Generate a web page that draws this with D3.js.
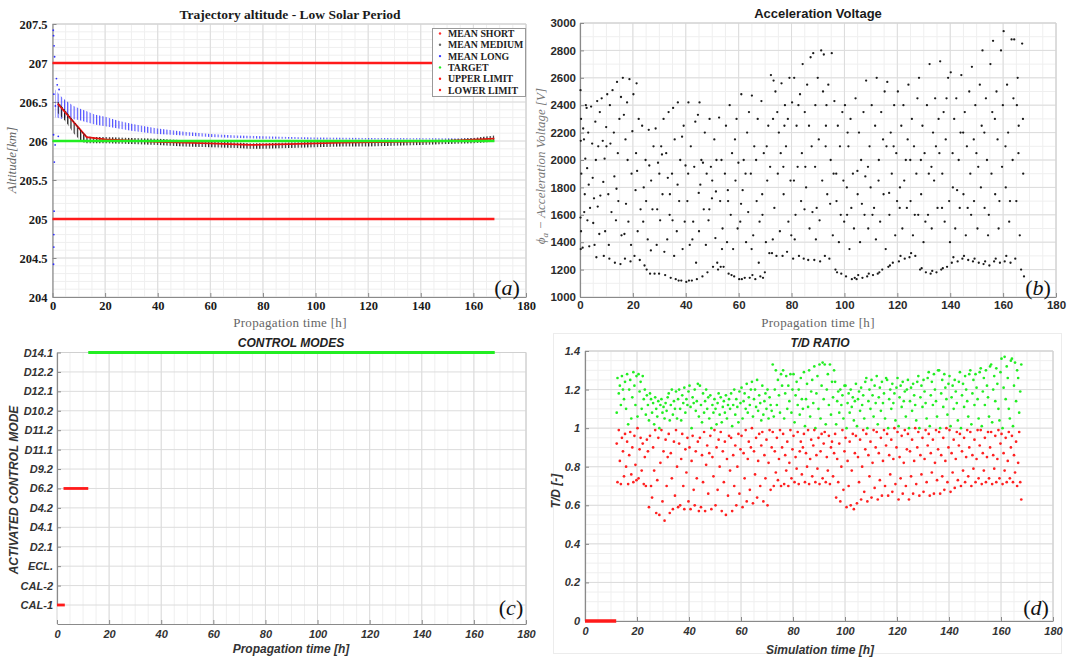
<!DOCTYPE html>
<html><head><meta charset="utf-8">
<script src="https://cdn.jsdelivr.net/npm/d3@7"></script>
<style>body{margin:0;background:#fff}svg{display:block}</style>
</head><body>
<svg id="c" width="1069" height="662"></svg>
<script>
// ---------------- DATA ----------------
// (a) Trajectory altitude
const aTitle = "Trajectory altitude - Low Solar Period";
const aLimitUpper = 207, aLimitLower = 205, aTarget = 206, aEnd = 168;
const legendNames = ["MEAN SHORT","MEAN MEDIUM","MEAN LONG","TARGET","UPPER LIMIT","LOWER LIMIT"];
const longT  = [1,2,3,5,8,10,13,16,20,25,30,35,40,50,60,70,80,90,100,120,140,160,168];
const longHi = [206.66,206.62,206.58,206.52,206.45,206.42,206.38,206.34,206.31,206.26,206.22,206.19,206.16,206.12,206.09,206.07,206.06,206.05,206.045,206.04,206.035,206.035,206.04];
const longLo = [206.30,206.30,206.28,206.30,206.28,206.27,206.24,206.21,206.19,206.16,206.13,206.11,206.09,206.07,206.05,206.04,206.03,206.03,206.02,206.02,206.02,206.02,206.02];
const longOutliers = [[0.3,207.42],[0.4,207.35],[0.6,207.22],[0.8,207.08],[1.5,206.8],[1.8,206.72],[2.5,206.66],[0.5,206.6],[1.1,206.45],[0.4,206.08],[1.0,205.95],[0.7,205.73],[0.6,205.1],[0.5,204.8],[0.5,204.64],[0.4,204.42],[2.2,206.06]];
const medT  = [2,5,8,11,13,15,20,30,40,50,60,70,75,80,90,100,110,120,130,140,150,160,168];
const medHi = [206.5,206.38,206.25,206.12,206.06,206.05,206.05,206.04,206.03,206.01,206.0,205.98,205.97,205.97,205.98,205.99,206.0,206.0,206.0,206.01,206.02,206.04,206.07];
const medLo = [206.36,206.25,206.1,205.99,205.97,205.97,205.97,205.96,205.95,205.93,205.92,205.91,205.9,205.9,205.91,205.92,205.93,205.93,205.94,205.95,205.96,205.97,205.99];
const shortT = [2,13,20,40,60,75,90,110,130,150,168];
const shortV = [206.48,206.05,206.02,205.99,205.97,205.95,205.96,205.98,205.99,206.0,206.03];

// (b) Acceleration voltage (t [h], V)
const bTitle = "Acceleration Voltage";
const voltage = [
0.2,2510,0.4,2300,0.3,2140,0.5,1900,0.2,1580,0.4,1480,0.3,1350,1.2,2230,1.5,2150,1.8,1750,2.2,2400,2.5,2380,2.8,1560,3.1,2200,3.5,1370,3.8,1650,1.0,1360,2.0,2010,3.3,1820,
4.2,2390,4.6,2120,5.0,1540,5.3,1720,5.8,2280,6.2,1290,6.5,2430,6.9,2100,7.3,1460,7.7,1740,4.8,1870,6.0,2000,7.5,2350,
8.2,2450,8.6,2140,9.0,1300,9.5,1480,9.9,2240,10.3,2480,10.7,1750,11.1,1280,11.5,2120,11.9,1620,8.8,1840,10.0,2100,11.3,2400,
12.3,2510,12.8,2200,13.2,1250,13.6,1560,14.0,2570,14.5,1700,14.9,2300,15.3,1240,15.7,1450,13.0,1880,14.3,2050,15.5,2460,
16.2,2600,16.6,2330,17.0,1280,17.4,1680,17.8,2420,18.3,1550,18.7,2590,19.1,1260,19.5,1900,19.8,2210,16.8,1460,18.0,2000,
20.2,2480,20.6,1300,21.0,1780,21.4,2560,21.8,1480,22.2,2300,22.6,1270,21.2,2050,22.9,1640,
23.5,2250,23.9,1550,24.4,1230,24.8,2000,25.2,1200,25.6,1420,26.0,2220,26.5,1170,26.9,1850,27.4,1640,27.8,2100,25.0,1700,26.2,1960,
28.2,1170,28.6,2230,29.0,1380,29.5,1980,29.9,1170,30.3,1560,30.7,2100,31.2,1750,31.6,2300,30.0,1900,31.9,1330,
32.2,1160,32.6,2050,33.0,1420,33.5,2350,33.9,1600,34.3,1140,34.8,1900,35.2,2380,35.6,1300,34.0,1750,35.8,2150,
36.2,1130,36.6,1480,37.0,2420,37.5,1700,37.9,2000,38.3,1120,38.8,1350,39.2,2250,39.6,1550,37.3,1120,39.9,1960,
40.2,1110,40.6,1700,41.0,2420,41.5,1380,41.9,2100,42.3,1120,42.8,1550,43.2,1950,43.6,2280,41.2,1120,43.9,1250,
44.2,1130,44.6,2330,45.0,1480,45.5,1820,45.9,2000,46.3,1150,46.8,1640,47.2,2200,47.6,1380,45.2,2420,47.9,1900,
48.2,1180,48.6,1560,49.0,2300,49.5,1950,49.9,1720,50.3,1220,50.8,2150,51.2,1430,51.6,2000,50.0,1850,51.9,1250,
52.2,1200,52.6,2310,53.0,1700,53.5,2000,53.9,1500,54.3,1220,54.8,1900,55.2,2250,55.6,1400,53.2,1220,55.9,1780,
56.2,1170,56.6,2400,57.0,1600,57.5,2050,57.9,1350,58.3,1150,58.8,1850,59.2,2300,59.6,1500,57.3,1160,59.9,1980,
60.2,1130,60.6,1550,61.0,2480,61.5,1780,61.9,2000,62.3,1140,62.8,1400,63.2,2200,63.6,1620,61.2,1130,63.9,2350,
64.2,1140,64.6,1900,65.0,2470,65.5,1450,65.9,2100,66.3,1130,66.8,1700,67.2,2300,67.6,1250,65.2,1160,67.9,1550,
68.2,1150,68.6,2430,69.0,1600,69.5,2050,69.9,1180,70.3,1400,70.8,1850,71.2,2250,71.6,1320,69.2,1140,71.9,1950,
72.2,2620,72.6,1320,73.0,2300,73.5,1650,73.9,2500,74.3,1300,74.8,1900,75.2,2200,75.6,1480,73.2,2580,75.9,2050,
76.2,2560,76.6,1300,77.0,1750,77.5,2400,77.9,2100,78.3,1330,78.8,1550,79.2,2600,79.6,1850,77.3,2250,79.9,1450,
80.2,2420,80.6,1280,81.0,2600,81.5,1600,81.9,2250,82.3,1950,82.8,1300,83.2,2480,83.6,1700,81.2,1420,83.9,2050,
84.2,2700,84.6,1280,85.0,2350,85.5,1800,85.9,2550,86.3,1270,86.8,1500,87.2,2750,87.6,2100,85.2,1950,87.9,1620,
88.2,2780,88.6,1270,89.0,2400,89.5,1650,89.9,2600,90.3,2150,90.8,1260,91.2,2800,91.6,1850,89.2,1420,91.9,2500,
92.2,2770,92.6,1300,93.0,2250,93.5,1750,93.9,2550,94.3,1280,94.8,2000,95.2,2780,95.6,1450,93.2,2400,95.9,1900,
96.2,2430,96.6,1200,97.0,1700,97.5,2250,97.9,1400,98.3,2100,98.8,1170,99.2,2350,99.6,1850,97.2,1180,99.9,1550,
100.2,2400,100.6,1150,101.0,1600,101.5,2100,101.9,1350,102.3,2300,102.8,1130,103.2,1900,103.6,1500,101.2,2200,103.9,1140,
104.2,2450,104.6,1130,105.0,1750,105.5,2200,105.9,1400,106.3,2000,106.8,1140,107.2,2350,107.6,1600,105.2,1160,107.9,1880,
108.2,2580,108.6,1150,109.0,1500,109.5,2100,109.9,1800,110.3,2400,110.8,1160,111.2,1650,111.6,2250,109.2,1170,111.9,1420,
112.2,2600,112.6,1170,113.0,2000,113.5,1550,113.9,2350,114.3,1200,114.8,1750,115.2,2500,115.6,1350,113.2,1180,115.9,2100,
116.2,2570,116.6,1220,117.0,1600,117.5,2200,117.9,1900,118.3,1250,118.8,2400,119.2,1450,119.6,2050,117.2,1230,119.9,1700,
120.2,2500,120.6,1260,121.0,1800,121.5,2250,121.9,1500,122.3,2400,122.8,1280,123.2,2000,123.6,1650,121.2,1300,123.9,2150,
124.2,2550,124.6,1290,125.0,1700,125.5,2300,125.9,1450,126.3,2100,126.8,1300,127.2,1900,127.6,2450,125.2,1320,127.9,1600,
128.2,2600,128.6,1200,129.0,1750,129.5,2250,129.9,1400,130.3,2050,130.8,1180,131.2,2400,131.6,1600,129.2,1210,131.9,1900,
132.2,2700,132.6,1170,133.0,1500,133.5,2200,133.9,1850,134.3,2450,134.8,1180,135.2,1650,135.6,2300,133.2,1190,135.9,2050,
136.2,2720,136.6,1200,137.0,1900,137.5,2350,137.9,1550,138.3,2150,138.8,1220,139.2,2600,139.6,1700,137.2,1210,139.9,1400,
140.2,2640,140.6,1250,141.0,1800,141.5,2300,141.9,1500,142.3,2450,142.8,1260,143.2,2000,143.6,1650,141.2,1290,143.9,2200,
144.2,2620,144.6,1280,145.0,1750,145.5,2350,145.9,1450,146.3,2100,146.8,1270,147.2,2500,147.6,1900,145.2,1300,147.9,1600,
148.2,2680,148.6,1260,149.0,1700,149.5,2400,149.9,2050,150.3,1500,150.8,1250,151.2,2550,151.6,1800,149.2,1280,151.9,2250,
152.2,2800,152.6,1240,153.0,1650,153.5,2450,153.9,2000,154.3,1450,154.8,1230,155.2,2700,155.6,1900,153.2,1260,155.9,2350,
156.2,2870,156.6,1260,157.0,1750,157.5,2500,157.9,2150,158.3,1500,158.8,1250,159.2,2800,159.6,1950,157.2,1280,159.9,2400,
160.2,2940,160.6,1260,161.0,1800,161.5,2550,161.9,2200,162.3,1550,162.8,1250,163.2,2880,163.6,2000,161.2,1300,163.9,2450,
164.2,2880,164.6,1280,165.0,1700,165.5,2600,165.9,2250,166.3,1450,166.8,1200,167.2,2850,167.6,1900,165.2,2400,167.9,1150,167.5,2300,
// additional points
1.6,1620,2.7,1940,5.5,1380,6.7,1660,9.3,2010,10.9,1380,13.8,1790,17.2,2150,19.3,1380,21.6,1920,
24.1,1800,26.8,1340,29.2,1640,31.0,2040,33.2,1870,35.0,1560,36.9,1820,38.6,2170,40.9,1900,42.5,1420,
44.9,1760,46.5,1980,48.9,1640,51.4,1770,53.7,1350,56.0,1700,58.6,2150,60.9,1680,62.6,1900,64.9,1350,
66.6,2000,68.9,1750,70.6,2100,72.9,1420,74.6,2350,76.9,1950,78.6,2300,80.9,1850,82.6,2400,84.9,1640,
86.6,2250,88.9,1950,90.6,1560,92.9,2100,94.6,1680,96.9,1900,98.6,1600,100.9,1800,102.6,1650,104.9,1920,
106.6,1680,108.9,1950,110.6,1600,112.9,1850,114.6,2150,116.9,1760,118.6,2100,120.9,1650,122.6,1850,124.9,2000,
126.6,1600,128.9,2000,130.6,1550,132.9,1950,134.6,2100,136.9,1650,138.6,2450,140.9,2050,142.6,1780,144.9,2200,
146.6,1650,148.9,2150,150.6,1950,152.9,2200,154.6,1600,156.9,2300,158.6,1700,160.9,2100,162.6,1700,165.8,2050];

// (c) Control modes
const cTitle = "CONTROL MODES";
const modes = ["CAL-1","CAL-2","ECL.","D2.1","D4.1","D4.2","D6.2","D9.2","D11.1","D11.2","D10.2","D12.1","D12.2","D14.1"];
const segMode  = ["CAL-1","D6.2","D14.1"];
const segStart = [0, 2.5, 12];
const segEnd   = [3, 12, 168];
const segKind  = ["transient","transient","steady"];

// (d) T/D ratio
const dTitle = "T/D RATIO";
const tdIdle = [[0,0],[12,0]];
const tdAbove = [
12.2,1.08,12.5,1.26,13.0,1.18,13.4,1.22,13.8,1.12,14.2,1.27,14.6,1.2,15.0,1.15,15.4,1.24,15.8,1.1,
16.2,1.28,16.6,1.02,17.0,1.2,17.4,1.25,17.8,1.05,18.2,1.16,18.6,1.29,19.0,1.22,19.4,1.12,19.8,1.27,
20.2,1.06,20.6,1.28,21.0,1.19,21.4,1.24,21.8,1.1,22.2,1.27,22.6,1.15,23.0,1.2,23.4,1.07,23.8,1.17,
24.2,1.12,24.6,1.04,25.0,1.18,25.4,1.15,25.8,1.08,26.2,1.13,26.6,1.02,27.0,1.16,27.4,1.1,27.8,1.06,
28.2,1.14,28.6,1.0,29.0,1.12,29.4,1.15,29.8,1.08,30.2,1.11,30.6,1.05,31.0,1.13,31.4,1.09,31.8,1.16,
32.2,1.18,32.6,1.04,33.0,1.12,33.4,1.2,33.8,1.07,34.2,1.14,34.6,1.1,35.0,1.19,35.4,1.05,35.8,1.15,
36.2,1.2,36.6,1.1,37.0,1.04,37.4,1.17,37.8,1.13,38.2,1.21,38.6,1.08,39.0,1.15,39.4,1.12,39.8,1.19,
40.2,1.22,40.6,1.11,41.0,1.0,41.4,1.16,41.8,1.13,42.2,1.2,42.6,1.09,43.0,1.14,43.4,1.23,43.8,1.06,
44.2,1.22,44.6,1.12,45.0,1.03,45.4,1.18,45.8,1.08,46.2,1.14,46.6,1.2,47.0,1.1,47.4,1.16,47.8,1.05,
48.2,1.17,48.6,1.0,49.0,1.12,49.4,1.08,49.8,1.15,50.2,1.1,50.6,1.02,51.0,1.13,51.4,1.18,51.8,1.07,
52.2,1.16,52.6,1.03,53.0,1.11,53.4,1.14,53.8,1.08,54.2,1.17,54.6,1.05,55.0,1.12,55.4,1.15,55.8,1.1,
56.2,1.18,56.6,1.01,57.0,1.12,57.4,1.2,57.8,1.07,58.2,1.15,58.6,1.11,59.0,1.03,59.4,1.19,59.8,1.13,
60.2,1.21,60.6,1.05,61.0,1.14,61.4,1.18,61.8,1.1,62.2,1.23,62.6,1.08,63.0,1.16,63.4,1.12,63.8,1.2,
64.2,1.24,64.6,1.06,65.0,1.15,65.4,1.2,65.8,1.11,66.2,1.25,66.6,1.09,67.0,1.17,67.4,1.13,67.8,1.04,
68.2,1.22,68.6,1.07,69.0,1.14,69.4,1.18,69.8,1.1,70.2,1.2,70.6,1.05,71.0,1.16,71.4,1.12,71.8,1.09,
72.2,1.33,72.6,1.06,73.0,1.2,73.4,1.3,73.8,1.12,74.2,1.25,74.6,1.17,75.0,1.08,75.4,1.28,75.8,1.22,
76.2,1.3,76.6,1.05,77.0,1.18,77.4,1.27,77.8,1.1,78.2,1.22,78.6,1.14,79.0,1.28,79.4,1.08,79.8,1.2,
80.2,1.28,80.6,1.03,81.0,1.17,81.4,1.24,81.8,1.12,82.2,1.2,82.6,1.07,83.0,1.26,83.4,1.15,83.8,1.1,
84.2,1.29,84.6,1.01,85.0,1.15,85.4,1.23,85.8,1.11,86.2,1.3,86.6,1.06,87.0,1.19,87.4,1.25,87.8,1.13,
88.2,1.32,88.6,1.0,89.0,1.18,89.4,1.27,89.8,1.1,90.2,1.33,90.6,1.05,91.0,1.22,91.4,1.34,91.8,1.15,
92.2,1.33,92.6,1.02,93.0,1.2,93.4,1.28,93.8,1.12,94.2,1.33,94.6,1.07,95.0,1.24,95.4,1.16,95.8,1.3,
96.2,1.24,96.6,1.02,97.0,1.14,97.4,1.19,97.8,1.08,98.2,1.2,98.6,1.12,99.0,1.17,99.4,1.05,99.8,1.22,
100.2,1.22,100.6,1.0,101.0,1.13,101.4,1.18,101.8,1.08,102.2,1.2,102.6,1.11,103.0,1.16,103.4,1.04,103.8,1.14,
104.2,1.23,104.6,1.01,105.0,1.15,105.4,1.19,105.8,1.09,106.2,1.21,106.6,1.12,107.0,1.17,107.4,1.05,107.8,1.24,
108.2,1.26,108.6,1.0,109.0,1.14,109.4,1.2,109.8,1.1,110.2,1.25,110.6,1.17,111.0,1.06,111.4,1.22,111.8,1.13,
112.2,1.27,112.6,1.02,113.0,1.16,113.4,1.21,113.8,1.09,114.2,1.24,114.6,1.13,115.0,1.18,115.4,1.05,115.8,1.26,
116.2,1.25,116.6,1.0,117.0,1.15,117.4,1.2,117.8,1.1,118.2,1.23,118.6,1.13,119.0,1.18,119.4,1.04,119.8,1.21,
120.2,1.26,120.6,1.01,121.0,1.16,121.4,1.22,121.8,1.11,122.2,1.24,122.6,1.14,123.0,1.19,123.4,1.06,123.8,1.2,
124.2,1.25,124.6,1.0,125.0,1.14,125.4,1.21,125.8,1.09,126.2,1.23,126.6,1.17,127.0,1.12,127.4,1.04,127.8,1.24,
128.2,1.27,128.6,1.0,129.0,1.16,129.4,1.22,129.8,1.11,130.2,1.25,130.6,1.19,131.0,1.13,131.4,1.05,131.8,1.26,
132.2,1.29,132.6,1.01,133.0,1.17,133.4,1.24,133.8,1.12,134.2,1.28,134.6,1.2,135.0,1.14,135.4,1.06,135.8,1.3,
136.2,1.3,136.6,1.0,137.0,1.18,137.4,1.25,137.8,1.11,138.2,1.28,138.6,1.21,139.0,1.15,139.4,1.07,139.8,1.23,
140.2,1.27,140.6,1.01,141.0,1.16,141.4,1.22,141.8,1.1,142.2,1.25,142.6,1.19,143.0,1.13,143.4,1.04,143.8,1.24,
144.2,1.29,144.6,1.0,145.0,1.17,145.4,1.23,145.8,1.11,146.2,1.27,146.6,1.2,147.0,1.14,147.4,1.06,147.8,1.28,
148.2,1.3,148.6,1.02,149.0,1.18,149.4,1.25,149.8,1.12,150.2,1.28,150.6,1.21,151.0,1.15,151.4,1.05,151.8,1.29,
152.2,1.31,152.6,1.01,153.0,1.19,153.4,1.26,153.8,1.12,154.2,1.3,154.6,1.22,155.0,1.16,155.4,1.06,155.8,1.32,
156.2,1.33,156.6,1.03,157.0,1.2,157.4,1.27,157.8,1.14,158.2,1.31,158.6,1.23,159.0,1.1,159.4,1.04,159.8,1.29,
160.2,1.36,160.6,1.0,161.0,1.21,161.4,1.37,161.8,1.15,162.2,1.32,162.6,1.26,163.0,1.1,163.4,1.05,163.8,1.35,
164.2,1.36,164.6,1.01,165.0,1.22,165.4,1.34,165.8,1.14,166.2,1.3,166.6,1.26,167.0,1.08,167.4,1.19,167.8,1.33];
const tdBelow = [
12.2,0.92,12.5,0.72,13.0,0.99,13.4,0.83,13.8,0.71,14.2,0.95,14.6,0.88,15.0,0.75,15.4,0.97,15.8,0.8,
16.2,0.93,16.6,0.71,17.0,0.86,17.4,0.98,17.8,0.76,18.2,0.9,18.6,0.72,19.0,0.96,19.4,0.81,19.8,0.73,
20.2,1.0,20.6,0.74,21.0,0.89,21.4,0.95,21.8,0.78,22.2,0.92,22.6,0.71,23.0,0.85,23.4,0.7,23.8,0.94,
24.2,0.88,24.6,0.59,25.0,0.96,25.4,0.7,25.8,0.64,26.2,0.9,26.6,0.78,27.0,0.99,27.4,0.56,27.8,0.73,
28.2,0.95,28.6,0.55,29.0,0.82,29.4,0.99,29.8,0.62,30.2,0.88,30.6,0.52,31.0,0.94,31.4,0.7,31.8,0.85,
32.2,0.97,32.6,0.56,33.0,0.87,33.4,0.74,33.8,0.58,34.2,0.93,34.6,0.65,35.0,0.99,35.4,0.8,35.8,0.59,
36.2,0.92,36.6,0.6,37.0,0.84,37.4,0.97,37.8,0.7,38.2,0.58,38.6,0.89,39.0,0.77,39.4,0.95,39.8,0.62,
40.2,0.9,40.6,0.58,41.0,0.83,41.4,0.96,41.8,0.68,42.2,0.6,42.6,0.88,43.0,0.74,43.4,0.93,43.8,0.57,
44.2,0.95,44.6,0.59,45.0,0.86,45.4,0.72,45.8,0.98,46.2,0.57,46.6,0.81,47.0,0.91,47.4,0.66,47.8,0.87,
48.2,0.96,48.6,0.58,49.0,0.85,49.4,0.75,49.8,0.99,50.2,0.6,50.6,0.9,51.0,0.68,51.4,0.94,51.8,0.8,
52.2,0.98,52.6,0.57,53.0,0.88,53.4,0.72,53.8,0.93,54.2,0.55,54.6,0.84,55.0,0.65,55.4,0.96,55.8,0.78,
56.2,0.95,56.6,0.57,57.0,0.86,57.4,0.7,57.8,0.91,58.2,0.6,58.6,0.8,59.0,0.97,59.4,0.66,59.8,0.89,
60.2,0.96,60.6,0.59,61.0,0.87,61.4,0.74,61.8,0.99,62.2,0.62,62.6,0.84,63.0,0.93,63.4,0.68,63.8,0.9,
64.2,1.0,64.6,0.61,65.0,0.88,65.4,0.76,65.8,0.95,66.2,0.64,66.6,0.83,67.0,0.97,67.4,0.7,67.8,0.91,
68.2,0.98,68.6,0.62,69.0,0.86,69.4,0.74,69.8,0.94,70.2,0.6,70.6,0.82,71.0,0.99,71.4,0.68,71.8,0.9,
72.2,0.98,72.6,0.7,73.0,0.88,73.4,0.77,73.8,0.95,74.2,0.73,74.6,0.84,75.0,0.99,75.4,0.7,75.8,0.9,
76.2,0.97,76.6,0.71,77.0,0.86,77.4,0.78,77.8,0.93,78.2,0.7,78.6,0.82,79.0,0.99,79.4,0.74,79.8,0.89,
80.2,0.96,80.6,0.72,81.0,0.85,81.4,0.79,81.8,0.98,82.2,0.71,82.6,0.88,83.0,0.93,83.4,0.76,83.8,0.9,
84.2,0.97,84.6,0.72,85.0,0.87,85.4,0.8,85.8,0.99,86.2,0.71,86.6,0.84,87.0,0.94,87.4,0.75,87.8,0.91,
88.2,0.99,88.6,0.72,89.0,0.86,89.4,0.79,89.8,0.95,90.2,0.71,90.6,0.88,91.0,0.97,91.4,0.74,91.8,0.92,
92.2,0.98,92.6,0.72,93.0,0.85,93.4,0.78,93.8,0.96,94.2,0.71,94.6,0.9,95.0,0.93,95.4,0.75,95.8,0.87,
96.2,0.97,96.6,0.64,97.0,0.84,97.4,0.72,97.8,0.92,98.2,0.62,98.6,0.8,99.0,0.99,99.4,0.68,99.8,0.88,
100.2,0.95,100.6,0.59,101.0,0.83,101.4,0.7,101.8,0.93,102.2,0.6,102.6,0.78,103.0,0.97,103.4,0.58,103.8,0.87,
104.2,0.96,104.6,0.61,105.0,0.85,105.4,0.72,105.8,0.94,106.2,0.63,106.6,0.8,107.0,0.99,107.4,0.67,107.8,0.89,
108.2,0.97,108.6,0.62,109.0,0.86,109.4,0.75,109.8,0.93,110.2,0.64,110.6,0.82,111.0,0.99,111.4,0.69,111.8,0.9,
112.2,0.98,112.6,0.63,113.0,0.87,113.4,0.73,113.8,0.95,114.2,0.65,114.6,0.83,115.0,0.99,115.4,0.7,115.8,0.91,
116.2,0.97,116.6,0.65,117.0,0.86,117.4,0.76,117.8,0.94,118.2,0.67,118.6,0.84,119.0,1.0,119.4,0.71,119.8,0.9,
120.2,0.98,120.6,0.63,121.0,0.85,121.4,0.74,121.8,0.96,122.2,0.66,122.6,0.82,123.0,0.99,123.4,0.7,123.8,0.89,
124.2,0.97,124.6,0.63,125.0,0.88,125.4,0.75,125.8,0.94,126.2,0.66,126.6,0.83,127.0,1.0,127.4,0.71,127.8,0.9,
128.2,0.98,128.6,0.65,129.0,0.86,129.4,0.76,129.8,0.95,130.2,0.67,130.6,0.84,131.0,0.99,131.4,0.72,131.8,0.91,
132.2,0.97,132.6,0.65,133.0,0.87,133.4,0.77,133.8,0.94,134.2,0.66,134.6,0.82,135.0,0.99,135.4,0.73,135.8,0.89,
136.2,0.98,136.6,0.66,137.0,0.86,137.4,0.75,137.8,0.95,138.2,0.68,138.6,0.83,139.0,1.0,139.4,0.72,139.8,0.9,
140.2,0.99,140.6,0.67,141.0,0.87,141.4,0.77,141.8,0.94,142.2,0.69,142.6,0.84,143.0,0.98,143.4,0.73,143.8,0.91,
144.2,0.97,144.6,0.7,145.0,0.88,145.4,0.78,145.8,0.95,146.2,0.72,146.6,0.85,147.0,0.99,147.4,0.75,147.8,0.9,
148.2,0.98,148.6,0.7,149.0,0.86,149.4,0.79,149.8,0.94,150.2,0.72,150.6,0.84,151.0,0.99,151.4,0.74,151.8,0.91,
152.2,0.99,152.6,0.71,153.0,0.87,153.4,0.78,153.8,0.95,154.2,0.72,154.6,0.85,155.0,0.98,155.4,0.74,155.8,0.9,
156.2,0.98,156.6,0.71,157.0,0.86,157.4,0.79,157.8,0.96,158.2,0.72,158.6,0.84,159.0,0.99,159.4,0.74,159.8,0.92,
160.2,0.97,160.6,0.71,161.0,0.87,161.4,0.78,161.8,0.95,162.2,0.72,162.6,0.83,163.0,0.98,163.4,0.74,163.8,0.9,
164.2,0.96,164.6,0.72,165.0,0.86,165.4,0.77,165.8,0.93,166.2,0.7,166.6,0.82,167.0,0.98,167.4,0.72,167.8,0.63];

const timeTicks = [0,20,40,60,80,100,120,140,160,180];
const altTicks = [204,204.5,205,205.5,206,206.5,207,207.5];
const voltTicks = [1000,1200,1400,1600,1800,2000,2200,2400,2600,2800,3000];
const tdTicks = [0,0.2,0.4,0.6,0.8,1,1.2,1.4];

// ---------------- DRAWING ----------------
const SERIF = "'Liberation Serif','Times New Roman',serif";
const SANS = "'Liberation Sans',Arial,Helvetica,sans-serif";
const svg = d3.select('#c');
const pairs = flat => { const r=[]; for(let i=0;i<flat.length;i+=2) r.push([flat[i],flat[i+1]]); return r; };
const stepRange = (a,b,s) => d3.range(Math.round((b-a)/s)+1).map(i=>a+i*s);
const fmtG = d3.format('~g');

const defs = svg.append('defs');
function stripe(id,color,w,sw,op){
  const p=defs.append('pattern').attr('id',id).attr('patternUnits','userSpaceOnUse').attr('width',w).attr('height',50);
  p.append('rect').attr('x',0).attr('y',0).attr('width',sw).attr('height',50).attr('fill',color).attr('opacity',op);
}
stripe('pBlue','#2a2aff',3.2,1.1,0.85);
stripe('pBlack','#111',3.2,1.2,0.95);

svg.append('rect').attr('x',553.5).attr('y',333.5).attr('width',508).attr('height',320).attr('fill','none').attr('stroke','#ececec');

function panel(o){
  const x=d3.scaleLinear().domain(o.xd).range([o.L,o.R]);
  const y=o.y;
  const g=svg.append('g');
  const gr=g.append('g');
  o.xMinor.forEach(v=>gr.append('line').attr('x1',x(v)).attr('x2',x(v)).attr('y1',o.T).attr('y2',o.B).attr('stroke','#efefef'));
  o.yMinor.forEach(v=>gr.append('line').attr('y1',y(v)).attr('y2',y(v)).attr('x1',o.L).attr('x2',o.R).attr('stroke','#efefef'));
  o.xMajor.forEach(v=>gr.append('line').attr('x1',x(v)).attr('x2',x(v)).attr('y1',o.T).attr('y2',o.B).attr('stroke','#dcdcdc'));
  o.yMajor.forEach(v=>gr.append('line').attr('y1',y(v)).attr('y2',y(v)).attr('x1',o.L).attr('x2',o.R).attr('stroke','#dcdcdc'));
  g.append('line').attr('x1',o.L).attr('x2',o.R).attr('y1',o.T).attr('y2',o.T).attr('stroke','#d0d0d0');
  g.append('line').attr('x1',o.R).attr('x2',o.R).attr('y1',o.T).attr('y2',o.B).attr('stroke','#d0d0d0');
  const ax=g.append('g').attr('transform',`translate(0,${o.B})`)
    .call(d3.axisBottom(x).tickValues(o.xTicks).tickSizeInner(-4).tickSizeOuter(0).tickPadding(o.xPad));
  const ay=g.append('g').attr('transform',`translate(${o.L},0)`)
    .call(d3.axisLeft(y).tickValues(o.yTicks).tickFormat(o.yFmt||null).tickSizeInner(-4).tickSizeOuter(0).tickPadding(o.yPad));
  [ax,ay].forEach(a=>{
    a.select('.domain').attr('stroke','#8a8a8a').attr('stroke-width',1.2);
    a.selectAll('.tick line').attr('stroke','#8a8a8a');
    a.selectAll('.tick text').attr('font-family',o.font).attr('font-size',o.fs).attr('font-weight','bold')
      .attr('font-style',o.italic?'italic':'normal').attr('fill',o.tc);
  });
  return {x,y,g};
}

// ---- (a) ----
{
  const yA=d3.scaleLinear().domain([204,207.5]).range([297,24]);
  const P=panel({L:52.5,R:526,T:24,B:297,xd:[0,180],y:yA,xTicks:timeTicks,yTicks:altTicks,
    xMajor:timeTicks,yMajor:altTicks,xMinor:stepRange(0,180,5),yMinor:stepRange(204,207.5,0.1),
    font:SERIF,fs:12.5,tc:'#1a1a1a',xPad:4,yPad:5,yFmt:fmtG});
  const {x,y,g}=P;
  const area=d3.area().x(d=>x(d.t)).y0(d=>y(d.lo)).y1(d=>y(d.hi));
  g.append('path').datum(longT.map((t,i)=>({t,hi:longHi[i],lo:longLo[i]}))).attr('d',area).attr('fill','url(#pBlue)');
  g.append('path').datum(medT.map((t,i)=>({t,hi:medHi[i],lo:medLo[i]}))).attr('d',area).attr('fill','url(#pBlack)');
  g.selectAll('.lo').data(longOutliers).enter().append('circle').attr('cx',d=>x(d[0])).attr('cy',d=>y(d[1])).attr('r',0.9).attr('fill','#3030ff');
  const line=d3.line().x(d=>x(d[0])).y(d=>y(d[1]));
  g.append('path').datum(shortT.map((t,i)=>[t,shortV[i]])).attr('d',line).attr('fill','none').attr('stroke','#e81010').attr('stroke-width',1.8);
  g.append('path').datum(medT.slice(0,5).map((t,i)=>[t,medHi[i]])).attr('d',line).attr('fill','none').attr('stroke','#222').attr('stroke-width',1).attr('stroke-dasharray','1.5,1.5');
  g.append('path').datum([[0,aTarget],[aEnd,aTarget]]).attr('d',line).attr('stroke','#22ee22').attr('stroke-width',2.6);
  g.append('path').datum([[0,aLimitUpper],[aEnd,aLimitUpper]]).attr('d',line).attr('stroke','#ff1a1a').attr('stroke-width',2.6);
  g.append('path').datum([[0,aLimitLower],[aEnd,aLimitLower]]).attr('d',line).attr('stroke','#ff1a1a').attr('stroke-width',2.6);
  const lg=svg.append('g');
  lg.append('rect').attr('x',432.5).attr('y',28.5).attr('width',93).attr('height',68).attr('fill','#fff').attr('stroke','#9a9a9a');
  const lc=['#ff3030','#666','#3a3aff','#22ee22','#ff1a1a','#ff1a1a'];
  legendNames.forEach((n,i)=>{
    const yy=33.5+i*11.3;
    lg.append('circle').attr('cx',440).attr('cy',yy).attr('r',1.2).attr('fill',lc[i]);
    lg.append('text').attr('x',448).attr('y',yy+3.5).text(n).attr('font-family',SERIF).attr('font-weight','bold').attr('font-size',9.8).attr('fill','#222');
  });
  svg.append('text').attr('x',290).attr('y',19).attr('text-anchor','middle').text(aTitle)
    .attr('font-family',SERIF).attr('font-weight','bold').attr('font-size',13.5).attr('fill','#1a1a1a');
  svg.append('text').attr('x',290).attr('y',327).attr('text-anchor','middle').text('Propagation time [h]')
    .attr('font-family',SERIF).attr('font-size',13).attr('fill','#666').attr('letter-spacing',0.3);
  svg.append('text').attr('transform','translate(16,160) rotate(-90)').attr('text-anchor','middle').text('Altitude[km]')
    .attr('font-family',SERIF).attr('font-style','italic').attr('font-size',13).attr('fill','#666');
}

// ---- (b) ----
{
  const yB=d3.scaleLinear().domain([1000,3000]).range([297,23]);
  const P=panel({L:580,R:1056,T:23,B:297,xd:[0,180],y:yB,xTicks:timeTicks,yTicks:voltTicks,
    xMajor:timeTicks,yMajor:voltTicks,xMinor:stepRange(0,180,5),yMinor:stepRange(1000,3000,100),
    font:SANS,fs:11.5,tc:'#2a2a2a',xPad:4,yPad:4,yFmt:d3.format('d')});
  const {x,y,g}=P;
  g.selectAll('.v').data(pairs(voltage)).enter().append('circle')
    .attr('cx',d=>x(d[0])).attr('cy',d=>y(d[1])).attr('r',1.15).attr('fill','#1a1a1a');
  svg.append('text').attr('x',818).attr('y',18).attr('text-anchor','middle').text(bTitle)
    .attr('font-family',SANS).attr('font-weight','bold').attr('font-size',13).attr('fill','#1a1a1a');
  svg.append('text').attr('x',818).attr('y',327).attr('text-anchor','middle').text('Propagation time [h]')
    .attr('font-family',SERIF).attr('font-size',13).attr('fill','#666').attr('letter-spacing',0.3);
  const t=svg.append('text').attr('transform','translate(545,166) rotate(-90)').attr('text-anchor','middle')
    .attr('font-family',SERIF).attr('font-style','italic').attr('font-size',13).attr('fill','#777');
  t.append('tspan').text('ϕ');
  t.append('tspan').text('a').attr('font-size',9).attr('dy',3);
  t.append('tspan').text(' − Acceleration Voltage [V]').attr('dy',-3);
}

// ---- (c) ----
{
  const yC=d3.scalePoint().domain(modes).range([605,352.5]);
  const P=panel({L:57,R:526,T:352.5,B:624,xd:[0,180],y:yC,xTicks:timeTicks,yTicks:modes,
    xMajor:timeTicks,yMajor:modes,xMinor:stepRange(0,180,5),yMinor:[],
    font:SANS,fs:11,tc:'#333',italic:true,xPad:6,yPad:4});
  const {x,y,g}=P;
  const kindColor={transient:'#ff1a1a',steady:'#22ee22'};
  segMode.forEach((m,i)=>{
    g.append('line').attr('x1',x(segStart[i])).attr('x2',x(segEnd[i])).attr('y1',y(m)).attr('y2',y(m))
      .attr('stroke',kindColor[segKind[i]]).attr('stroke-width',2.8);
  });
  svg.append('text').attr('x',291).attr('y',347).attr('text-anchor','middle').text(cTitle)
    .attr('font-family',SANS).attr('font-weight','bold').attr('font-style','italic').attr('font-size',12).attr('fill','#222');
  svg.append('text').attr('x',291).attr('y',653).attr('text-anchor','middle').text('Propagation time [h]')
    .attr('font-family',SANS).attr('font-weight','bold').attr('font-style','italic').attr('font-size',12).attr('fill','#333');
  svg.append('text').attr('transform','translate(18,490) rotate(-90)').attr('text-anchor','middle').text('ACTIVATED CONTROL MODE')
    .attr('font-family',SANS).attr('font-weight','bold').attr('font-style','italic').attr('font-size',12).attr('fill','#333');
}

// ---- (d) ----
{
  const yD=d3.scaleLinear().domain([0,1.4]).range([621,351]);
  const P=panel({L:585,R:1053,T:351,B:621,xd:[0,180],y:yD,xTicks:timeTicks,yTicks:tdTicks,
    xMajor:timeTicks,yMajor:tdTicks,xMinor:stepRange(0,180,5),yMinor:stepRange(0,1.4,0.05),
    font:SANS,fs:11,tc:'#333',italic:true,xPad:6,yPad:5,yFmt:fmtG});
  const {x,y,g}=P;
  g.selectAll('.g').data(pairs(tdAbove)).enter().append('circle')
    .attr('cx',d=>x(d[0])).attr('cy',d=>y(d[1])).attr('r',1.35).attr('fill','#22ee22');
  g.selectAll('.r').data(pairs(tdBelow)).enter().append('circle')
    .attr('cx',d=>x(d[0])).attr('cy',d=>y(d[1])).attr('r',1.35).attr('fill','#ff2020');
  g.append('line').attr('x1',x(tdIdle[0][0])).attr('x2',x(tdIdle[1][0])).attr('y1',y(tdIdle[0][1])).attr('y2',y(tdIdle[1][1]))
    .attr('stroke','#ff1a1a').attr('stroke-width',3.5);
  svg.append('text').attr('x',820).attr('y',347).attr('text-anchor','middle').text(dTitle)
    .attr('font-family',SANS).attr('font-weight','bold').attr('font-style','italic').attr('font-size',12).attr('fill','#222');
  svg.append('text').attr('x',820).attr('y',654).attr('text-anchor','middle').text('Simulation time [h]')
    .attr('font-family',SANS).attr('font-weight','bold').attr('font-style','italic').attr('font-size',12).attr('fill','#333');
  svg.append('text').attr('transform','translate(560,491) rotate(-90)').attr('text-anchor','middle').text('T/D [-]')
    .attr('font-family',SANS).attr('font-weight','bold').attr('font-style','italic').attr('font-size',12).attr('fill','#333');
}

[['a',507,295],['b',1038,295],['c',511,615],['d',1036,615]].forEach(([l,cx,by])=>{
  const t=svg.append('text').attr('x',cx).attr('y',by).attr('text-anchor','middle')
    .attr('font-family',SERIF).attr('font-size',22).attr('fill','#111');
  t.append('tspan').text('(');
  t.append('tspan').text(l).attr('font-style','italic');
  t.append('tspan').text(')');
});
</script>
</body></html>
